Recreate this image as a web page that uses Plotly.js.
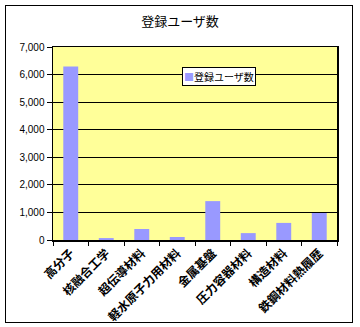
<!DOCTYPE html>
<html>
<head>
<meta charset="utf-8">
<script src="https://cdn.plot.ly/plotly-3.0.1.min.js"></script>
<style>
html,body{margin:0;padding:0;background:#fff;}
#wrap{position:relative;width:360px;height:327px;}
#chart{width:360px;height:327px;}
#frame{position:absolute;left:5px;top:5px;width:346px;height:316px;border:1px solid #000;pointer-events:none;}
</style>
</head>
<body>
<div id="wrap"><div id="chart"></div><div id="frame"></div></div>
<script>
const categories = ["高分子","核融合工学","超伝導材料","軽水原子力用材料","金属基盤","圧力容器材料","構造材料","鉄鋼材料熱履歴"];
const users = [6290, 70, 400, 110, 1410, 250, 620, 980];
const seriesName = "登録ユーザ数";
const yTicks = [0,1000,2000,3000,4000,5000,6000,7000];
const yTickText = ["0","1,000","2,000","3,000","4,000","5,000","6,000","7,000"];

const jp = '"Noto Sans CJK JP", sans-serif';
const barColor = '#9999FF';
const trace = {
  type: 'bar',
  x: categories,
  y: users,
  name: seriesName,
  marker: {color: barColor, line: {width: 0}},
  showlegend: false
};
const layout = {
  width: 360, height: 327,
  margin: {l: 53, r: 23, t: 47, b: 87, pad: 0},
  paper_bgcolor: '#FFFFFF',
  plot_bgcolor: '#FFFF99',
  title: {text: '登録ユーザ数', font: {family: jp, size: 13, color: '#000'}, x: 0.5, xanchor: 'center', y: 0.935, yanchor: 'middle'},
  bargap: 0.58,
  showlegend: false,
  annotations: [{
    xref: 'paper', yref: 'paper', x: 0.455, y: 0.895, xanchor: 'left', yanchor: 'top',
    text: '<span style="color:' + barColor + '">■</span>' + seriesName,
    showarrow: false, align: 'left',
    font: {family: jp, size: 10, color: '#000'},
    bgcolor: '#FFFFFF', bordercolor: '#000', borderwidth: 1, borderpad: 1
  }],
  xaxis: {
    type: 'category',
    tickson: 'boundaries',
    ticks: 'outside', ticklen: 4, tickcolor: '#000', tickwidth: 1,
    tickangle: -45,
    tickfont: {family: jp, size: 12, color: '#000', weight: 'bold'},
    showline: true, linecolor: '#000', linewidth: 1.5,
    showgrid: false, mirror: true, zeroline: false, fixedrange: true, automargin: false
  },
  yaxis: {
    range: [0, 7000],
    tickmode: 'array', tickvals: yTicks, ticktext: yTickText,
    ticks: 'outside', ticklen: 5, tickcolor: '#000', tickwidth: 1,
    tickfont: {family: '"Liberation Sans", Arial, sans-serif', size: 10, color: '#000'},
    showline: true, linecolor: '#000', linewidth: 1.5, mirror: true,
    showgrid: true, gridcolor: '#000', gridwidth: 1,
    zeroline: false, fixedrange: true, automargin: false
  }
};
Plotly.newPlot('chart', [trace], layout, {displayModeBar: false, staticPlot: true});
</script>
</body>
</html>
